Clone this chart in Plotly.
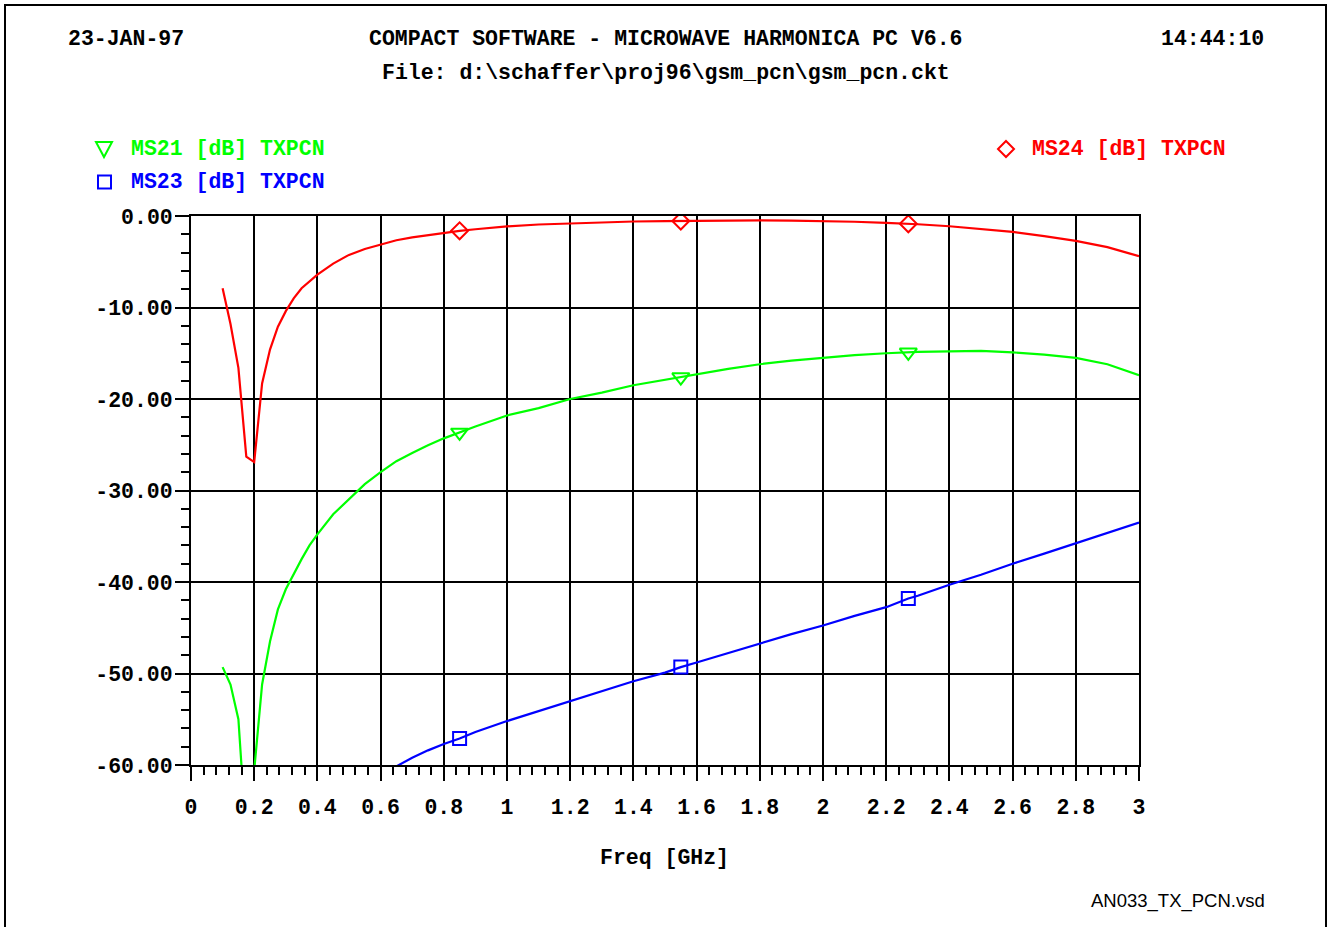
import plotly.graph_objects as go

# ---------------- data ----------------
ms24_freq = [0.10, 0.125, 0.15, 0.175, 0.20, 0.225, 0.25, 0.275, 0.30, 0.325, 0.35, 0.40, 0.45,
             0.50, 0.55, 0.60, 0.65, 0.70, 0.75, 0.80, 0.85, 0.90, 1.0, 1.1, 1.2, 1.3, 1.4, 1.5,
             1.55, 1.6, 1.7, 1.8, 1.9, 2.0, 2.1, 2.2, 2.27, 2.3, 2.4, 2.5, 2.6, 2.7, 2.8, 2.9, 3.0]
ms24_db = [-7.9, -11.8, -16.6, -26.3, -26.9, -18.3, -14.6, -12.1, -10.4, -9.0, -7.9, -6.4, -5.2,
           -4.25, -3.6, -3.1, -2.65, -2.33, -2.07, -1.85, -1.62, -1.45, -1.13, -0.93, -0.8, -0.68,
           -0.6, -0.55, -0.53, -0.5, -0.47, -0.47, -0.5, -0.54, -0.63, -0.76, -0.85, -0.9, -1.12,
           -1.4, -1.74, -2.2, -2.72, -3.4, -4.4]

ms21_freq = [0.10, 0.125, 0.15, 0.175, 0.20, 0.225, 0.25, 0.275, 0.30, 0.325, 0.35, 0.375, 0.40,
             0.45, 0.50, 0.55, 0.60, 0.65, 0.70, 0.75, 0.80, 0.85, 0.90, 1.0, 1.1, 1.2, 1.3, 1.4,
             1.5, 1.55, 1.6, 1.7, 1.8, 1.9, 2.0, 2.1, 2.2, 2.27, 2.3, 2.4, 2.5, 2.6, 2.7, 2.8, 2.9, 3.0]
ms21_db = [-49.3, -51.2, -55.0, -68.0, -60.6, -51.2, -46.5, -43.0, -40.8, -39.1, -37.5, -36.0, -34.8,
           -32.6, -30.9, -29.3, -28.0, -26.8, -25.9, -25.05, -24.3, -23.65, -23.0, -21.8, -21.0,
           -20.0, -19.3, -18.5, -17.9, -17.6, -17.3, -16.7, -16.2, -15.8, -15.5, -15.2, -15.0,
           -14.9, -14.85, -14.8, -14.75, -14.9, -15.15, -15.5, -16.2, -17.4]

ms23_freq = [0.60, 0.66, 0.70, 0.75, 0.80, 0.85, 0.90, 1.0, 1.1, 1.2, 1.3, 1.4, 1.5, 1.55, 1.6,
             1.7, 1.8, 1.9, 2.0, 2.1, 2.2, 2.27, 2.3, 2.4, 2.5, 2.6, 2.7, 2.8, 2.9, 3.0]
ms23_db = [-61.1, -60.0, -59.2, -58.4, -57.7, -57.1, -56.4, -55.2, -54.1, -53.0, -51.9, -50.85,
           -49.9, -49.3, -48.8, -47.75, -46.75, -45.7, -44.75, -43.7, -42.75, -41.8, -41.5, -40.3,
           -39.2, -38.0, -36.9, -35.75, -34.6, -33.5]

marker_freq = [0.85, 1.55, 2.27]
ms24_marker_db = [-1.62, -0.55, -0.85]
ms21_marker_db = [-23.65, -17.6, -14.9]
ms23_marker_db = [-57.1, -49.3, -41.8]

x_tickvals = [0, 0.2, 0.4, 0.6, 0.8, 1.0, 1.2, 1.4, 1.6, 1.8, 2.0, 2.2, 2.4, 2.6, 2.8, 3.0]
x_ticktext = ["0", "0.2", "0.4", "0.6", "0.8", "1", "1.2", "1.4", "1.6", "1.8", "2",
              "2.2", "2.4", "2.6", "2.8", "3"]
y_tickvals = [0, -10, -20, -30, -40, -50, -60]
y_ticktext = ["0.00", "-10.00", "-20.00", "-30.00", "-40.00", "-50.00", "-60.00"]

header_left = "23-JAN-97"
header_center = "COMPACT SOFTWARE - MICROWAVE HARMONICA PC V6.6"
header_right = "14:44:10"
file_line = "File: d:\\schaffer\\proj96\\gsm_pcn\\gsm_pcn.ckt"
legend_ms21 = "MS21 [dB] TXPCN"
legend_ms23 = "MS23 [dB] TXPCN"
legend_ms24 = "MS24 [dB] TXPCN"
x_title = "Freq [GHz]"
footer = "AN033_TX_PCN.vsd"

# ---------------- styling ----------------
RED = "#ff0000"
GREEN = "#00ff00"
BLUE = "#0000ff"
MONO = "Liberation Mono, Courier New, monospace"
FS = 21.5

W, H = 1329, 927
L, R, T, B = 191, 1139, 216, 765   # plot area in pixels


def px(xp):
    return (xp - L) / (R - L)


def py(yp):
    return (B - yp) / (B - T)


fig = go.Figure()

fig.add_trace(go.Scatter(x=ms24_freq, y=ms24_db, mode="lines",
                         line=dict(color=RED, width=2.2), showlegend=False))
fig.add_trace(go.Scatter(x=ms21_freq, y=ms21_db, mode="lines",
                         line=dict(color=GREEN, width=2.2), showlegend=False))
fig.add_trace(go.Scatter(x=ms23_freq, y=ms23_db, mode="lines",
                         line=dict(color=BLUE, width=2.2), showlegend=False))

fig.add_trace(go.Scatter(x=marker_freq, y=ms24_marker_db, mode="markers", showlegend=False,
                         marker=dict(symbol="diamond-open", size=13, color=RED,
                                     line=dict(width=2, color=RED))))
fig.add_trace(go.Scatter(x=marker_freq, y=ms21_marker_db, mode="markers", showlegend=False,
                         marker=dict(symbol="triangle-down-open", size=15, color=GREEN,
                                     line=dict(width=2, color=GREEN))))
fig.add_trace(go.Scatter(x=marker_freq, y=ms23_marker_db, mode="markers", showlegend=False,
                         marker=dict(symbol="square-open", size=13, color=BLUE,
                                     line=dict(width=2, color=BLUE))))

axis_common = dict(
    showgrid=True, gridcolor="black", gridwidth=2,
    showline=True, mirror=True, linecolor="black", linewidth=2,
    zeroline=False, ticks="outside", ticklen=14, tickwidth=2, tickcolor="black",
    tickfont=dict(family=MONO, size=FS, color="black", weight="bold"),
    tickmode="array", fixedrange=True,
)

fig.update_xaxes(range=[0, 3], tickvals=x_tickvals, ticktext=x_ticktext,
                 ticklabelstandoff=7,
                 minor=dict(dtick=0.04, tick0=0, ticks="outside", ticklen=8, tickwidth=2,
                            tickcolor="black", showgrid=False),
                 **axis_common)
fig.update_yaxes(range=[-60, 0], tickvals=y_tickvals, ticktext=y_ticktext,
                 ticklabelstandoff=-2,
                 minor=dict(dtick=2, tick0=0, ticks="outside", ticklen=8, tickwidth=2,
                            tickcolor="black", showgrid=False),
                 **axis_common)

font_b = dict(family=MONO, size=FS, color="black", weight="bold")


def ann(text, xp, yp, xanchor, color="black", font=None):
    f = dict(font_b) if font is None else dict(font)
    f["color"] = color
    return dict(text=text, x=px(xp), y=py(yp), xref="paper", yref="paper",
                xanchor=xanchor, yanchor="middle", showarrow=False, font=f)


annotations = [
    ann(header_left, 66, 39, "left"),
    ann(header_center, 666, 39, "center"),
    ann(header_right, 1266, 39, "right"),
    ann(file_line, 666, 73, "center"),
    ann(legend_ms21, 129, 149, "left", GREEN),
    ann(legend_ms23, 129, 182, "left", BLUE),
    ann(legend_ms24, 1030, 149, "left", RED),
    ann(x_title, 664, 858, "center"),
    ann(footer, 1267, 901, "right", "black",
        dict(family="Liberation Sans, Arial, sans-serif", size=18.5, color="black")),
]

# legend key symbols and page frame
shapes = [
    dict(type="rect", xref="paper", yref="paper", x0=px(5), x1=px(1326), y0=py(940), y1=py(5),
         line=dict(color="black", width=2), fillcolor="rgba(0,0,0,0)", layer="below"),
    dict(type="path", xref="paper", yref="paper",
         path=f"M {px(96)} {py(142)} L {px(112)} {py(142)} L {px(104)} {py(157)} Z",
         line=dict(color=GREEN, width=2)),
    dict(type="rect", xref="paper", yref="paper", x0=px(98), x1=px(111), y0=py(188.5), y1=py(175.5),
         line=dict(color=BLUE, width=2)),
    dict(type="path", xref="paper", yref="paper",
         path=f"M {px(1006)} {py(141)} L {px(1014)} {py(149)} L {px(1006)} {py(157)} L {px(998)} {py(149)} Z",
         line=dict(color=RED, width=2)),
]

fig.update_layout(
    width=W, height=H, autosize=False,
    margin=dict(l=L, r=W - R, t=T, b=H - B, pad=0),
    paper_bgcolor="white", plot_bgcolor="white",
    showlegend=False,
    annotations=annotations,
    shapes=shapes,
)

fig.write_html("out.html", config={"displayModeBar": False})
